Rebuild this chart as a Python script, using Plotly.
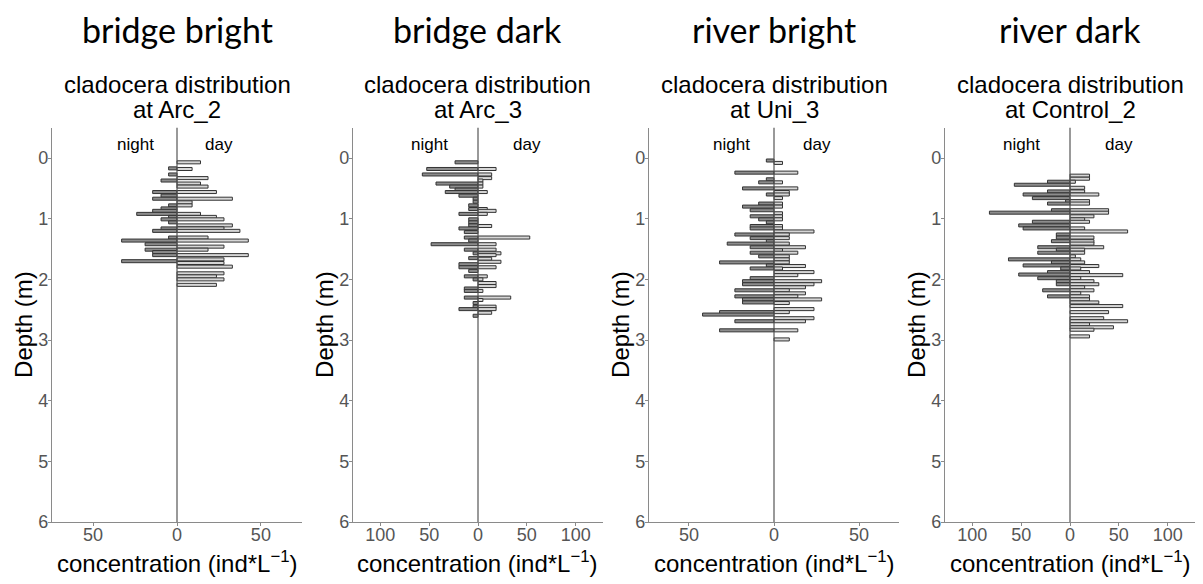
import plotly.graph_objects as go

# ---------------- data (depth in m, concentration in ind/L) ----------------
arc2_night_depth = [0.17, 0.27, 0.37, 0.56, 0.62, 0.67, 0.78, 0.83, 0.87, 0.92, 0.97, 1.01, 1.06,
                    1.16, 1.20, 1.31, 1.36, 1.42, 1.51, 1.55, 1.60, 1.70]
arc2_night_conc = [5, 5, 9.5, 14.5, 9.5, 14.5, 5, 9.5, 14.5, 24, 5, 9.5, 5,
                   9.5, 14.5, 5, 33, 19, 19, 14.5, 14.5, 33]
arc2_day_depth = [0.07, 0.18, 0.33, 0.42, 0.47, 0.56, 0.67, 0.73, 0.78, 0.92, 0.97, 1.01, 1.11, 1.16,
                  1.20, 1.31, 1.36, 1.46, 1.51, 1.60, 1.67, 1.73, 1.79, 1.90, 1.95, 2.00, 2.09]
arc2_day_conc = [14, 9, 18.5, 14, 18.5, 23.5, 33, 9, 9, 14, 23.5, 28, 33, 28,
                 37.5, 18.5, 42.5, 28, 18.5, 42.5, 28, 28, 33, 28, 23.5, 28, 23.5]

arc3_night_depth = [0.07, 0.18, 0.27, 0.42, 0.47, 0.52, 0.56, 0.62, 0.67, 0.72, 0.78, 0.84, 0.92, 1.01,
                    1.06, 1.11, 1.16, 1.22, 1.31, 1.36, 1.42, 1.51, 1.57, 1.65, 1.75, 1.80, 1.86, 1.95,
                    2.00, 2.15, 2.19, 2.30, 2.39, 2.45, 2.49, 2.60]
arc3_night_conc = [23.5, 52.5, 57, 43, 29, 23.5, 33.5, 19.5, 5, 5, 9.5, 9.5, 19.5, 9.5,
                   9.5, 9.5, 19.5, 14, 14, 9.5, 48, 14, 5, 9.5, 19.5, 19.5, 9.5, 14,
                   5, 14, 14, 14, 5, 5, 19.5, 5]
arc3_day_depth = [0.18, 0.27, 0.33, 0.37, 0.42, 0.47, 0.56, 0.84, 0.87, 0.92, 1.12, 1.31, 1.42, 1.51,
                  1.57, 1.60, 1.66, 1.71, 1.80, 1.95, 2.00, 2.06, 2.11, 2.19, 2.30, 2.34, 2.45, 2.49, 2.55]
arc3_day_conc = [18.5, 14, 14, 5, 5, 5, 9.5, 9.5, 18.5, 9.5, 14, 53, 18.5, 18.5,
                 23.5, 18.5, 14, 23.5, 18.5, 9.5, 5, 18.5, 18.5, 5, 33.5, 5, 18.5, 18.5, 14]

uni3_night_depth = [0.04, 0.24, 0.35, 0.40, 0.50, 0.60, 0.75, 0.80, 0.86, 0.96, 1.01, 1.06, 1.12, 1.16,
                    1.26, 1.32, 1.37, 1.41, 1.47, 1.56, 1.62, 1.72, 1.77, 1.82, 1.98, 2.03, 2.08, 2.18,
                    2.28, 2.33, 2.38, 2.54, 2.58, 2.69, 2.84]
uni3_night_conc = [4.5, 23, 4.5, 9, 18.5, 4.5, 9, 18.5, 14, 14, 9, 4.5, 14, 14,
                   23, 14, 4.5, 27.5, 14, 14, 9, 32, 4.5, 14, 14, 18.5, 18.5, 23,
                   23, 18.5, 18.5, 32, 42, 23, 32]
uni3_day_depth = [0.08, 0.24, 0.40, 0.50, 0.56, 0.60, 0.66, 0.75, 0.80, 0.91, 0.96, 1.01, 1.12, 1.16,
                  1.21, 1.26, 1.32, 1.41, 1.47, 1.52, 1.56, 1.62, 1.67, 1.72, 1.78, 1.82, 1.88, 1.93,
                  2.03, 2.08, 2.13, 2.18, 2.23, 2.28, 2.33, 2.39, 2.49, 2.54, 2.64, 2.69, 2.84, 2.99]
uni3_day_conc = [5, 14, 5, 14, 9, 9, 5, 5, 5, 5, 5, 5, 5, 5,
                 23.5, 9, 9, 9, 18.5, 5, 14, 9, 9, 9, 18.5, 5, 23.5, 14,
                 28, 23.5, 18.5, 9, 18.5, 14, 28, 9, 23.5, 9, 23.5, 18.5, 14, 9]

ctrl2_night_depth = [0.39, 0.44, 0.55, 0.60, 0.66, 0.71, 0.75, 0.86, 0.90, 1.05, 1.11, 1.16, 1.26, 1.31,
                     1.37, 1.47, 1.51, 1.56, 1.67, 1.72, 1.77, 1.82, 1.88, 1.92, 1.98, 2.03, 2.08, 2.18, 2.28]
ctrl2_night_conc = [23, 57, 23, 48, 38.5, 4.5, 23, 19, 82.5, 38.5, 52.5, 48, 14, 14,
                    19, 33, 14, 33, 63, 19, 48, 9.5, 23, 52.5, 33, 14, 14, 28, 23]
ctrl2_day_depth = [0.29, 0.34, 0.39, 0.49, 0.55, 0.60, 0.71, 0.75, 0.86, 0.90, 0.96, 1.01, 1.05, 1.16,
                   1.21, 1.31, 1.37, 1.41, 1.47, 1.51, 1.56, 1.62, 1.67, 1.72, 1.78, 1.82, 1.88, 1.93,
                   1.98, 2.03, 2.08, 2.13, 2.18, 2.23, 2.28, 2.33, 2.38, 2.44, 2.54, 2.64, 2.69, 2.74,
                   2.79, 2.83, 2.94]
ctrl2_day_conc = [20, 20, 5.5, 15, 15, 29.5, 20, 20, 39.5, 39.5, 24.5, 15, 20, 15,
                  59, 24.5, 24.5, 24.5, 34.5, 15, 15, 5.5, 11, 15, 29.5, 11, 20, 54,
                  11, 24.5, 29.5, 15, 24.5, 11, 20, 20, 29.5, 54, 39.5, 34.5, 59, 20,
                  44.5, 24.5, 20]

panel_titles = ["bridge bright", "bridge dark", "river bright", "river dark"]
site_names = ["Arc_2", "Arc_3", "Uni_3", "Control_2"]
x_limits = [74.5, 128, 73.5, 128]
x_tickvals = [[-50, 0, 50], [-100, -50, 0, 50, 100], [-50, 0, 50], [-100, -50, 0, 50, 100]]
label_offsets = [25, 50, 25, 50]
depth_ticks = [0, 1, 2, 3, 4, 5, 6]

night_depths = [arc2_night_depth, arc3_night_depth, uni3_night_depth, ctrl2_night_depth]
night_concs = [arc2_night_conc, arc3_night_conc, uni3_night_conc, ctrl2_night_conc]
day_depths = [arc2_day_depth, arc3_day_depth, uni3_day_depth, ctrl2_day_depth]
day_concs = [arc2_day_conc, arc3_day_conc, uni3_day_conc, ctrl2_day_conc]

# ---------------- layout geometry (pixels) ----------------
W, H = 1203, 584
panel_left = [52, 353, 649, 945]
panel_w = 250
plot_top, plot_bottom = 127.75, 522

def px(x):
    return x / W

def py(y):
    return 1 - y / H

fig = go.Figure()
layout = dict(
    width=W, height=H, template="none",
    margin=dict(l=0, r=0, t=0, b=0),
    paper_bgcolor="white", plot_bgcolor="white",
    barmode="overlay", showlegend=False,
    font=dict(family="Liberation Sans, Arial, sans-serif", color="black"),
)
annotations = []
shapes = []

for i in range(4):
    xa = "x" if i == 0 else f"x{i+1}"
    ya = "y" if i == 0 else f"y{i+1}"
    lkey_x = "xaxis" if i == 0 else f"xaxis{i+1}"
    lkey_y = "yaxis" if i == 0 else f"yaxis{i+1}"
    L = panel_left[i]
    R = L + panel_w
    cx = (L + R) / 2

    fig.add_trace(go.Bar(
        y=night_depths[i], x=[-v for v in night_concs[i]], orientation="h",
        width=0.05, xaxis=xa, yaxis=ya,
        marker=dict(color="#8c8c8c", line=dict(color="#333333", width=1)),
        name="night"))
    fig.add_trace(go.Bar(
        y=day_depths[i], x=day_concs[i], orientation="h",
        width=0.05, xaxis=xa, yaxis=ya,
        marker=dict(color="#d6d6d6", line=dict(color="#333333", width=1)),
        name="day"))

    lim = x_limits[i]
    layout[lkey_x] = dict(
        domain=[px(L), px(R)], anchor=ya, range=[-lim, lim],
        tickvals=x_tickvals[i], ticktext=[str(abs(v)) for v in x_tickvals[i]],
        showline=True, linecolor="#8a8a8a", linewidth=1.2,
        ticks="outside", ticklen=3, tickcolor="#8a8a8a", ticklabelstandoff=-7,
        tickfont=dict(size=18, color="#555555"),
        showgrid=False, zeroline=False, automargin=False, fixedrange=True)
    layout[lkey_y] = dict(
        domain=[py(plot_bottom), py(plot_top)], anchor=xa, range=[6, -0.5],
        tickvals=depth_ticks, ticktext=[str(v) for v in depth_ticks],
        showline=True, linecolor="#8a8a8a", linewidth=1.2,
        ticks="outside", ticklen=3, tickcolor="#8a8a8a", ticklabelstandoff=-4,
        tickfont=dict(size=18, color="#555555"),
        showgrid=False, zeroline=False, automargin=False, fixedrange=True)

    # zero line
    shapes.append(dict(type="line", xref=xa, yref=f"{ya} domain", x0=0, x1=0, y0=0, y1=1,
                       line=dict(color="#555555", width=1.2), layer="above"))

    # big title
    annotations.append(dict(text=panel_titles[i], xref="paper", yref="paper",
                            x=px(cx), y=py(29), xanchor="center", yanchor="middle",
                            showarrow=False, font=dict(family="Lato, sans-serif", size=34, color="black")))
    # subtitle
    annotations.append(dict(text="cladocera distribution", xref="paper", yref="paper",
                            x=px(cx), y=py(85), xanchor="center", yanchor="middle",
                            showarrow=False, font=dict(size=24, color="black")))
    annotations.append(dict(text=f"at {site_names[i]}", xref="paper", yref="paper",
                            x=px(cx), y=py(109), xanchor="center", yanchor="middle",
                            showarrow=False, font=dict(size=24, color="black")))
    # night / day
    for lab, sgn in (("night", -1), ("day", 1)):
        annotations.append(dict(text=lab, xref=xa, yref=ya,
                                x=sgn * label_offsets[i], y=-0.23,
                                xanchor="center", yanchor="middle", showarrow=False,
                                font=dict(size=17, color="black")))
    # axis titles
    annotations.append(dict(text="Depth (m)", xref="paper", yref="paper",
                            x=px(L - 28), y=py((plot_top + plot_bottom) / 2),
                            xanchor="center", yanchor="middle", textangle=-90,
                            showarrow=False, font=dict(size=24, color="black")))
    annotations.append(dict(text="concentration (ind*L<sup>\u22121</sup>)", xref="paper", yref="paper",
                            x=px(cx), y=py(562), xanchor="center", yanchor="middle",
                            showarrow=False, font=dict(size=24, color="black")))

layout["annotations"] = annotations
layout["shapes"] = shapes
fig.update_layout(**layout)
fig.write_html("out.html")
